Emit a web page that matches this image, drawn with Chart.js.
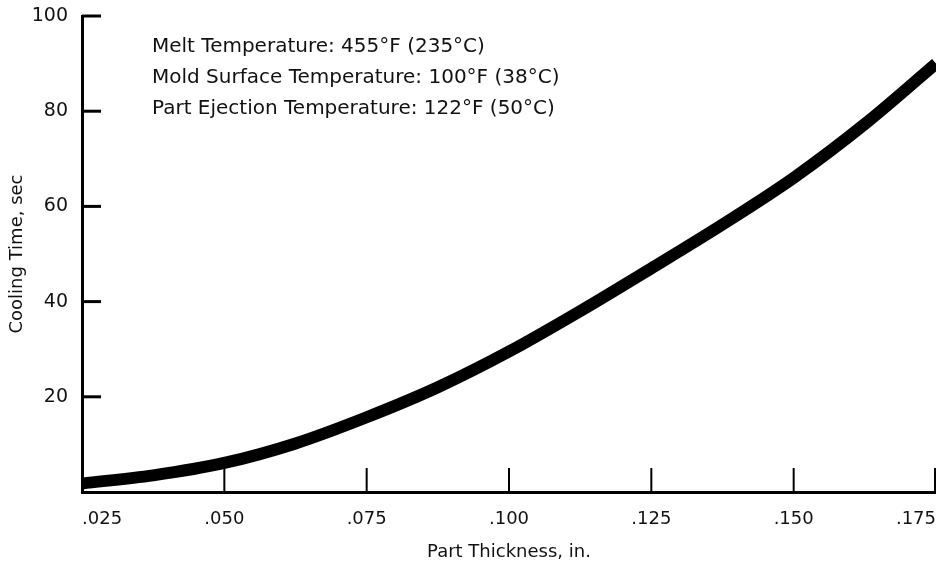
<!DOCTYPE html>
<html>
<head>
<meta charset="utf-8">
<script src="https://cdn.jsdelivr.net/npm/chart.js@4.4.1/dist/chart.umd.min.js"></script>
<style>
  html, body { margin: 0; padding: 0; background: #fff; }
  #wrap { width: 936px; height: 565px; position: relative; }
</style>
</head>
<body>
<div id="wrap"><canvas id="chart"></canvas></div>
<script>
// values
const thickness = [0.025, 0.0375, 0.05, 0.0625, 0.075, 0.0875, 0.1, 0.1125, 0.125, 0.1375, 0.15, 0.1625, 0.175];
const coolingTime = [1.8, 3.5, 6.1, 10.2, 15.7, 22.0, 29.5, 38.0, 47.0, 56.2, 66.0, 77.3, 90.0];

const xTicks = [0.025, 0.05, 0.075, 0.1, 0.125, 0.15, 0.175];
const xTickLabels = ['.025', '.050', '.075', '.100', '.125', '.150', '.175'];
const yTicks = [20, 40, 60, 80, 100];

const notes = [
    'Melt Temperature: 455°F (235°C)',
    'Mold Surface Temperature: 100°F (38°C)',
    'Part Ejection Temperature: 122°F (50°C)',
];

const FONT = "'DejaVu Sans', sans-serif";
const INK = '#111';

// ticks in the reference point into the plot, so draw them here from the scales
const innerTicks = {
    id: 'innerTicks',
    afterDatasetsDraw(chart) {
        const { ctx, chartArea: a, scales: { x, y } } = chart;
        ctx.save();
        ctx.strokeStyle = '#000';
        ctx.lineCap = 'butt';

        ctx.lineWidth = 3;
        yTicks.forEach(v => {
            const py = y.getPixelForValue(v);
            ctx.beginPath();
            ctx.moveTo(a.left, py);
            ctx.lineTo(a.left + 19, py);
            ctx.stroke();
        });

        ctx.lineWidth = 2;
        xTicks.slice(1).forEach(v => {
            const px = Math.min(x.getPixelForValue(v), a.right - 1);
            ctx.beginPath();
            ctx.moveTo(px, a.bottom);
            ctx.lineTo(px, a.bottom - 24);
            ctx.stroke();
        });

        ctx.fillStyle = INK;
        ctx.font = `20px ${FONT}`;
        ctx.textBaseline = 'middle';
        ctx.textAlign = 'left';
        notes.forEach((t, i) => ctx.fillText(t, 152, 47 + i * 31));
        ctx.restore();
    },
};

new Chart(document.getElementById('chart'), {
    type: 'line',
    data: {
        datasets: [{
            data: thickness.map((t, i) => ({ x: t, y: coolingTime[i] })),
            borderColor: '#000',
            borderWidth: 12,
            borderCapStyle: 'butt',
            cubicInterpolationMode: 'monotone',
            pointRadius: 0,
            fill: false,
        }],
    },
    options: {
        responsive: true,
        maintainAspectRatio: false,
        animation: false,
        layout: { padding: { top: 16, right: 0, left: 0, bottom: 0 } },
        plugins: { legend: { display: false }, tooltip: { enabled: false } },
        scales: {
            x: {
                type: 'linear',
                min: 0.025,
                max: 0.175,
                afterBuildTicks: s => { s.ticks = xTicks.map(v => ({ value: v })); },
                afterFit: s => { s.height = 73; s.paddingLeft = 0; s.paddingRight = 0; },
                grid: { display: false, drawTicks: false },
                border: { color: '#000', width: 3 },
                ticks: {
                    align: 'inner',
                    padding: 17,
                    color: INK,
                    font: { family: FONT, size: 18 },
                    callback: (v, i) => xTickLabels[i],
                },
                title: {
                    display: true,
                    text: 'Part Thickness, in.',
                    color: INK,
                    font: { family: FONT, size: 18 },
                    padding: { top: 0, bottom: 2 },
                },
            },
            y: {
                min: 0,
                max: 100,
                afterBuildTicks: s => { s.ticks = yTicks.map(v => ({ value: v })); },
                afterFit: s => { s.width = 82; s.paddingTop = 0; s.paddingBottom = 0; },
                grid: { display: false, drawTicks: false },
                border: { color: '#000', width: 3 },
                ticks: {
                    padding: 14,
                    color: INK,
                    font: { family: FONT, size: 19 },
                },
                title: {
                    display: true,
                    text: 'Cooling Time, sec',
                    color: INK,
                    font: { family: FONT, size: 18 },
                    padding: { top: 7, bottom: 0 },
                },
            },
        },
    },
    plugins: [innerTicks],
});
</script>
</body>
</html>
